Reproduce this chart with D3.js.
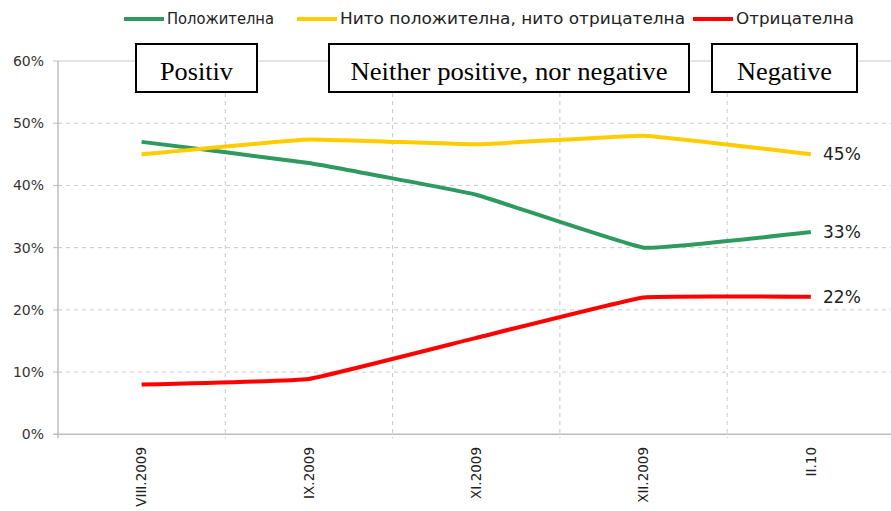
<!DOCTYPE html>
<html>
<head>
<meta charset="utf-8">
<script src="https://cdn.jsdelivr.net/npm/d3@7"></script>
<style>
  body { margin: 0; background: #fff; }
  svg { display: block; }
</style>
</head>
<body>
<svg id="chart" width="891" height="511"></svg>
<script>
// chart values
const months = ["VIII.2009", "IX.2009", "XI.2009", "XII.2009", "II.10"];
const positive = [47, 43.6, 38.5, 30, 32.5];
const neutral = [45, 47.4, 46.6, 48, 45];
const negative = [8, 8.9, 15.5, 22, 22.1];
const seriesNames = ["Положителна", "Нито положителна, нито отрицателна", "Отрицателна"];
const endLabels = ["33%", "45%", "22%"];
const yTicks = [0, 10, 20, 30, 40, 50, 60];
const boxLabels = ["Positiv", "Neither positive, nor negative", "Negative"];

const colors = ["#2e9a5f", "#ffcc00", "#ff0000"];
const series = [positive, neutral, negative];

const svg = d3.select("#chart");
const plotLeft = 58, plotRight = 894.5, plotTop = 61, plotBottom = 434.3;

const x = d3.scaleBand().domain(months).range([plotLeft, plotRight]);
const y = d3.scaleLinear().domain([0, 60]).range([plotBottom, plotTop]);

// horizontal grid
svg.append("g")
  .selectAll("line")
  .data(yTicks.filter(t => t > 0))
  .join("line")
  .attr("x1", plotLeft).attr("x2", 891)
  .attr("y1", d => y(d)).attr("y2", d => y(d))
  .attr("stroke", "#c8c8c8")
  .attr("stroke-width", 1)
  .attr("stroke-dasharray", d => d === 60 ? null : "4,4");

// vertical grid between categories
const bounds = months.slice(1).map(m => x(m));
svg.append("g")
  .selectAll("line")
  .data(bounds)
  .join("line")
  .attr("x1", d => d).attr("x2", d => d)
  .attr("y1", plotTop).attr("y2", plotBottom + 4)
  .attr("stroke", "#c8c8c8")
  .attr("stroke-dasharray", "4,4");

// axes lines
svg.append("line").attr("x1", plotLeft).attr("x2", plotLeft).attr("y1", plotTop).attr("y2", plotBottom + 4)
  .attr("stroke", "#bdbdbd").attr("stroke-width", 1.5);
svg.append("line").attr("x1", plotLeft - 4).attr("x2", 891).attr("y1", plotBottom).attr("y2", plotBottom)
  .attr("stroke", "#bdbdbd").attr("stroke-width", 1.5);

// y ticks + labels
svg.append("g")
  .selectAll("line")
  .data(yTicks)
  .join("line")
  .attr("x1", plotLeft - 5).attr("x2", plotLeft)
  .attr("y1", d => y(d)).attr("y2", d => y(d))
  .attr("stroke", "#bdbdbd");
svg.append("g")
  .selectAll("text")
  .data(yTicks)
  .join("text")
  .attr("x", 44).attr("y", d => y(d))
  .attr("dy", "0.35em")
  .attr("text-anchor", "end")
  .attr("font-family", "DejaVu Sans, sans-serif")
  .attr("font-size", 14)
  .attr("fill", "#333")
  .text(d => d + "%");

// x labels rotated
svg.append("g")
  .selectAll("text")
  .data(months)
  .join("text")
  .attr("transform", d => `translate(${x(d) + x.bandwidth() / 2},447) rotate(-90)`)
  .attr("dy", "0.35em")
  .attr("text-anchor", "end")
  .attr("font-family", "DejaVu Sans, sans-serif")
  .attr("font-size", 13.5)
  .attr("fill", "#222")
  .text(d => d);

// lines (light smoothing, close to straight segments)
const line = d3.line()
  .x((d, i) => x(months[i]) + x.bandwidth() / 2)
  .y(d => y(d))
  .curve(d3.curveCardinal.tension(0.75));

svg.append("g")
  .selectAll("path")
  .data(series)
  .join("path")
  .attr("d", d => line(d))
  .attr("fill", "none")
  .attr("stroke", (d, i) => colors[i])
  .attr("stroke-width", 4);

// end value labels
svg.append("g")
  .selectAll("text")
  .data(series)
  .join("text")
  .attr("x", 823)
  .attr("y", d => y(d[d.length - 1]))
  .attr("dy", "0.35em")
  .attr("font-family", "DejaVu Sans, sans-serif")
  .attr("font-size", 17)
  .attr("fill", "#222")
  .text((d, i) => endLabels[i]);

// legend
const legendX = [124, 297, 693];
const legendW = [107, 345, 118];
const legend = svg.append("g")
  .selectAll("g")
  .data(seriesNames)
  .join("g")
  .attr("transform", (d, i) => `translate(${legendX[i]},19)`);
legend.append("line")
  .attr("x1", 0).attr("x2", 40)
  .attr("stroke", (d, i) => colors[i])
  .attr("stroke-width", 4);
legend.append("text")
  .attr("x", 43)
  .attr("dy", "0.35em")
  .attr("font-family", "DejaVu Sans, sans-serif")
  .attr("font-size", 15)
  .attr("fill", "#222")
  .attr("textLength", (d, i) => legendW[i])
  .attr("lengthAdjust", "spacingAndGlyphs")
  .text(d => d);

// annotation boxes
const boxX = [136, 329, 712];
const boxW = [121, 360, 145];
const boxTextW = [73, 317, 95];
const boxes = svg.append("g")
  .selectAll("g")
  .data(boxLabels)
  .join("g")
  .attr("transform", (d, i) => `translate(${boxX[i]},44)`);
boxes.append("rect")
  .attr("width", (d, i) => boxW[i])
  .attr("height", 48)
  .attr("fill", "#fff")
  .attr("stroke", "#000")
  .attr("stroke-width", 2);
boxes.append("text")
  .attr("x", (d, i) => boxW[i] / 2)
  .attr("y", 36)
  .attr("text-anchor", "middle")
  .attr("font-family", "Liberation Serif, Times New Roman, serif")
  .attr("font-size", 26)
  .attr("fill", "#000")
  .attr("textLength", (d, i) => boxTextW[i])
  .attr("lengthAdjust", "spacingAndGlyphs")
  .text(d => d);
</script>
</body>
</html>
